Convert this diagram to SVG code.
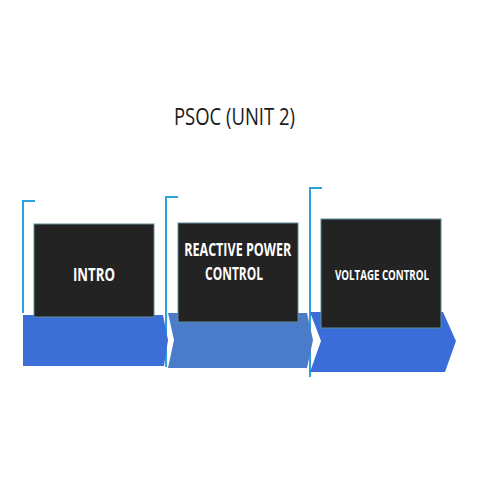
<svg xmlns="http://www.w3.org/2000/svg" width="480" height="480" viewBox="0 0 480 480">
<style>
.br{fill:none;stroke:#2aa2dd;stroke-width:2}
.box{fill:#232323;stroke:#5f8c98;stroke-width:1}
.lbl{font-family:"Open Sans","Liberation Sans",sans-serif;font-weight:bold;fill:#ffffff;text-anchor:middle}
.title{font-family:"Open Sans","Liberation Sans",sans-serif;fill:#1a1a1a;text-anchor:middle}
</style>
<rect width="480" height="480" fill="#ffffff"/>
<text class="title" x="234.5" y="124.5" font-size="24" textLength="121" lengthAdjust="spacingAndGlyphs">PSOC (UNIT 2)</text>
<g id="connectors">
<path class="br" d="M35,201 H23 V313"/>
<path class="br" d="M178,197 H166 V367"/>
<path class="br" d="M322,188 H310 V377"/>
</g>
<g id="step1">
<path d="M23,315 L163,315 L168,340 L164,366 L23,366 Z" fill="#3b6fd6"/>
<rect class="box" x="34" y="224" width="120" height="93"/>
<text class="lbl" x="94" y="281" font-size="18.5" textLength="42" lengthAdjust="spacingAndGlyphs">INTRO</text>
</g>
<g id="step2">
<path d="M168,313 L307,313 L313,340 L307,368 L168,368 L174,340 Z" fill="#4b7cca"/>
<rect class="box" x="178" y="223" width="120" height="99"/>
<text class="lbl" x="237.7" y="256" font-size="17.5" textLength="107" lengthAdjust="spacingAndGlyphs">REACTIVE POWER</text>
<text class="lbl" x="234" y="280" font-size="17.5" textLength="58" lengthAdjust="spacingAndGlyphs">CONTROL</text>
</g>
<g id="step3">
<path d="M310,312 L443,312 L456,341 L445,372 L310,372 L321,341 Z" fill="#3b6dd9"/>
<rect class="box" x="321" y="219" width="120" height="109"/>
<text class="lbl" x="382" y="280" font-size="14" textLength="94" lengthAdjust="spacingAndGlyphs">VOLTAGE CONTROL</text>
</g>
</svg>
